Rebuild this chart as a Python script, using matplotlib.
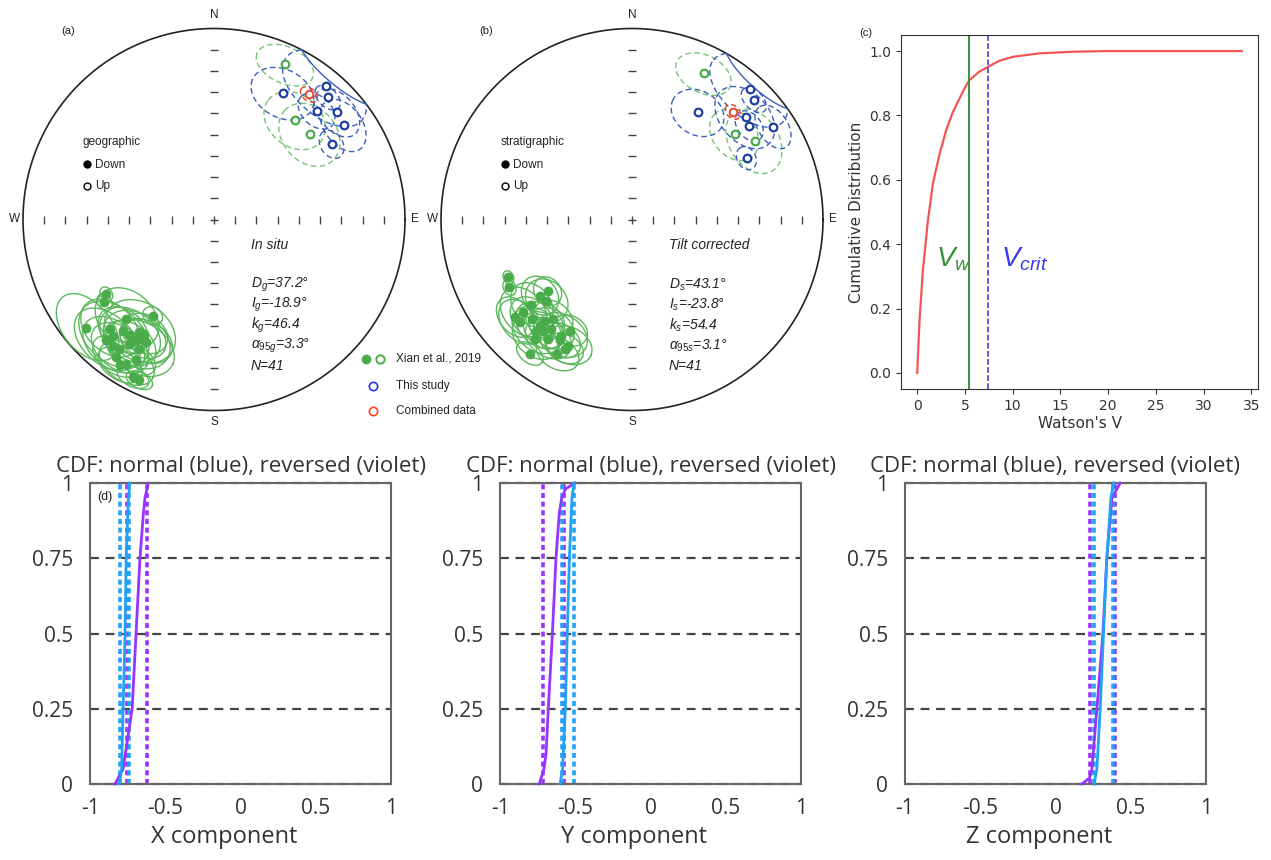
import numpy as np
import matplotlib
matplotlib.use('Agg')
import matplotlib.pyplot as plt

plt.rcParams['mathtext.fontset'] = 'custom'
plt.rcParams['mathtext.it'] = 'Liberation Sans:italic'
plt.rcParams['mathtext.rm'] = 'Liberation Sans'

# ---------------- DATA ----------------
# Panel (a) in situ: upper-hemisphere site means (open symbols, dashed a95)
a_xian_up_dec = [24.7, 39.2, 48.4]
a_xian_up_inc = [-11.6, -33.2, -33.2]
a_xian_up_a95 = [10.0, 12.5, 13.0]
a_this_dec = [28.6, 40.1, 43.0, 43.4, 49.0, 53.9, 57.4]
a_this_inc = [-25.5, -9.7, -13.7, -22.7, -15.5, -17.1, -27.7]
a_this_a95 = [12.0, 16.0, 5.0, 7.5, 9.5, 10.0, 5.5]
a_mean = (37.2, -18.9, 3.3)
# lower hemisphere (reversed) Xian et al. sites
a_xian_dn_dec = [235.3, 232.9, 229.6, 223.7, 221.4, 212.5, 221.1, 219.4, 213.5, 210.9, 212.8, 214.2, 216.2,
                 218.7, 210.0, 209.0, 215.4, 211.3, 208.9, 207.3, 204.9, 212.9, 221.7, 216.1, 211.3]
a_xian_dn_inc = [32.0, 28.9, 13.3, 21.9, 31.1, 40.0, 20.5, 25.7, 29.9, 28.0, 25.6, 22.3, 17.3,
                 16.5, 22.9, 27.5, 12.7, 12.6, 16.8, 8.0, 7.9, 9.9, 16.3, 25.8, 30.6]
a_xian_dn_a95 = [2.8, 3.3, 13.0, 12.0, 13.0, 4.0, 14.0, 10.0, 14.0, 9.0, 13.0, 10.0, 11.0,
                 12.0, 13.0, 10.0, 9.0, 10.0, 7.0, 5.5, 4.5, 8.0, 13.0, 12.0, 9.0]

# Panel (b) tilt corrected
b_xian_up_dec = [26.2, 50.3, 57.3]
b_xian_up_inc = [-15.9, -30.8, -24.6]
b_xian_up_a95 = [10.0, 10.5, 12.5]
b_this_dec = [31.6, 42.1, 45.6, 47.9, 51.4, 56.7, 61.8]
b_this_inc = [-34.5, -8.4, -11.6, -20.9, -22.4, -12.4, -32.5]
b_this_a95 = [10.5, 15.0, 5.0, 12.5, 6.0, 8.0, 4.5]
b_mean = (43.1, -23.8, 3.1)
b_xian_dn_dec = [244.9, 241.0, 229.6, 230.4, 226.5, 229.5, 230.1, 225.3, 220.8, 221.0, 220.7, 218.6, 216.4,
                 211.3, 209.3, 219.2, 215.1, 210.9, 206.9, 207.5, 217.3, 227.5, 218.4, 229.6, 209.1]
b_xian_dn_inc = [29.3, 27.5, 41.5, 37.4, 38.2, 26.1, 21.2, 26.9, 30.7, 27.3, 24.3, 26.4, 29.6,
                 29.6, 33.7, 20.5, 24.6, 27.1, 26.9, 24.7, 12.7, 21.5, 33.9, 31.5, 20.7]
b_xian_dn_a95 = [2.5, 3.0, 6.0, 8.0, 9.0, 10.0, 8.0, 9.0, 8.0, 10.0, 10.0, 8.0, 9.0,
                 10.0, 7.0, 9.0, 9.0, 8.0, 9.0, 7.0, 5.0, 9.0, 8.0, 9.0, 8.0]

# Panel (c) Watson's V CDF
watson_v = [0, 0.24, 0.59, 1.12, 1.64, 2.34, 3.03, 3.73, 4.43, 4.95, 5.47, 6.5, 7.42, 8.6, 10.0,
            12.8, 16.3, 19.8, 25.0, 30.0, 34.0]
watson_cdf = [0, 0.163, 0.318, 0.474, 0.588, 0.68, 0.754, 0.81, 0.853, 0.884, 0.91, 0.936, 0.951,
              0.97, 0.982, 0.993, 0.998, 1.0, 1.0, 1.0, 1.0]
v_w = 5.45
v_crit = 7.45

# Panel (d) bootstrap CDFs (component value at cumulative fraction)
x_norm_frac = [0, 0.05, 0.25, 0.5, 0.75, 0.95, 1]
x_norm_val = [-0.805, -0.79, -0.78, -0.767, -0.76, -0.745, -0.735]
x_norm_bounds = [-0.80, -0.74]
x_rev_frac = [0, 0.05, 0.25, 0.5, 0.75, 0.9, 0.95, 1]
x_rev_val = [-0.834, -0.78, -0.72, -0.694, -0.668, -0.645, -0.635, -0.612]
x_rev_bounds = [-0.755, -0.623]

y_norm_frac = [0, 0.05, 0.25, 0.5, 0.75, 0.95, 1]
y_norm_val = [-0.601, -0.584, -0.566, -0.553, -0.539, -0.522, -0.508]
y_norm_bounds = [-0.59, -0.506]
y_rev_frac = [0, 0.05, 0.1, 0.25, 0.5, 0.75, 0.9, 0.95, 0.98, 1]
y_rev_val = [-0.739, -0.708, -0.694, -0.679, -0.652, -0.628, -0.606, -0.59, -0.565, -0.502]
y_rev_bounds = [-0.712, -0.575]

z_norm_frac = [0, 0.05, 0.25, 0.5, 0.75, 0.95, 1]
z_norm_val = [0.257, 0.275, 0.297, 0.319, 0.341, 0.368, 0.386]
z_norm_bounds = [0.257, 0.381]
z_rev_frac = [0, 0.02, 0.05, 0.25, 0.5, 0.75, 0.95, 1]
z_rev_val = [0.175, 0.226, 0.242, 0.275, 0.315, 0.341, 0.375, 0.43]
z_rev_bounds = [0.231, 0.397]

# ---------------- FIGURE ----------------
W, H = 1271, 860
fig = plt.figure(figsize=(W / 100, H / 100), dpi=100)


def rect(l, t, r, b):
    return [l / W, 1 - b / H, (r - l) / W, (b - t) / H]


def dir2cart(dec, inc):
    d, i = np.radians(dec), np.radians(inc)
    return np.array([np.cos(i) * np.cos(d), np.cos(i) * np.sin(d), np.sin(i)])


def project(v):
    n, e, d = v
    h = np.sqrt(n ** 2 + e ** 2)
    h = np.where(h == 0, 1e-12, h)
    R = np.sqrt(1 - np.abs(d)) / h
    return e * R, n * R


def draw_a95(ax, dec, inc, a95, c_up, c_dn, lw=1.0):
    v = dir2cart(dec, inc)
    e1 = np.cross(v, [0, 0, 1.0])
    e1 /= np.linalg.norm(e1)
    e2 = np.cross(v, e1)
    t = np.linspace(0, 2 * np.pi, 241)
    a = np.radians(a95)
    pts = (np.cos(a) * v[:, None] + np.sin(a) * (np.outer(e1, np.cos(t)) + np.outer(e2, np.sin(t))))
    X, Y = project(pts)
    lower = pts[2] >= 0
    idx = np.flatnonzero(np.diff(lower.astype(int))) + 1
    for s in np.split(np.arange(len(t)), idx):
        s2 = np.append(s, s[-1] + 1) if s[-1] + 1 < len(t) else s
        if lower[s[0]]:
            ax.plot(X[s2], Y[s2], color=c_dn, lw=lw, ls='-', zorder=2)
        else:
            ax.plot(X[s2], Y[s2], color=c_up, lw=lw, ls=(0, (4, 2.5)), zorder=2)


G_UP = '#74c474'
G_DN = '#5cb85c'
G_MK = '#4aab4a'
B_EL = '#3c5fba'
B_MK = '#1f3fa0'
R_EL = '#e8452c'

TXT = dict(family='Liberation Sans', color='#222222')


def stereonet(cx, cy, R, up_g, dn_g, up_b, mean, tag, ref, title, stats, half=215):
    ax = fig.add_axes(rect(cx - half, cy - half, cx + half, cy + half))
    lim = half / R
    ax.set_xlim(-lim, lim)
    ax.set_ylim(-lim, lim)
    ax.axis('off')
    ax.patch.set_alpha(0)

    def P(px, py):
        return (px - cx) / R, (cy - py) / R

    t = np.linspace(0, 2 * np.pi, 400)
    ax.plot(np.cos(t), np.sin(t), color='#222222', lw=1.2, zorder=1)
    r = np.arange(1, 9) / 9
    kw = dict(color='#444444', ls='none', ms=6, mew=1.0, zorder=1)
    ax.plot(np.r_[r, -r], np.zeros(16), '|', **kw)
    ax.plot(np.zeros(16), np.r_[r, -r], '_', **kw)
    ax.plot([0], [0], '+', **kw)
    ax.text(0, (cy - 15) / R, 'N', ha='center', va='center', fontsize=8.5, **TXT)
    ax.text(0, (cy - 422) / R, 'S', ha='center', va='center', fontsize=8.5, **TXT)
    ax.text(-1.045, 0, 'W', ha='center', va='center', fontsize=8.5, **TXT)
    ax.text(1.05, 0, 'E', ha='center', va='center', fontsize=8.5, **TXT)

    # lower-hemisphere Xian sites
    dd, ii, aa = dn_g
    for d, i, a in zip(dd, ii, aa):
        draw_a95(ax, d, i, a, G_UP, G_DN, lw=1.0)
    X, Y = project(dir2cart(np.array(dd), np.array(ii)))
    ax.plot(X, Y, 'o', color=G_MK, ms=6, ls='none', zorder=4)
    # upper-hemisphere Xian sites
    dd, ii, aa = up_g
    for d, i, a in zip(dd, ii, aa):
        draw_a95(ax, d, i, a, G_UP, G_DN, lw=1.0)
    X, Y = project(dir2cart(np.array(dd), np.array(ii)))
    ax.plot(X, Y, 'o', mfc='white', mec=G_MK, mew=1.6, ms=5.5, ls='none', zorder=4)
    # this study
    dd, ii, aa = up_b
    for d, i, a in zip(dd, ii, aa):
        draw_a95(ax, d, i, a, B_EL, B_EL, lw=1.0)
    X, Y = project(dir2cart(np.array(dd), np.array(ii)))
    ax.plot(X, Y, 'o', mfc='white', mec=B_MK, mew=1.6, ms=5.5, ls='none', zorder=5)
    # combined mean
    d, i, a = mean
    draw_a95(ax, d, i, a, R_EL, R_EL, lw=1.0)
    X, Y = project(dir2cart(np.array([d]), np.array([i])))
    ax.plot(X, Y, 'o', mfc='white', mec=R_EL, mew=1.4, ms=5.5, ls='none', zorder=6)

    ax.text(*P(cx - 153, 31), tag, ha='left', va='center', fontsize=8, **TXT)
    ax.text(*P(cx - 131, 142), ref, ha='left', va='center', fontsize=8.5, **TXT)
    ax.plot(*P(cx - 127, 164.5), 'o', color='black', ms=5)
    ax.text(*P(cx - 119, 164.5), 'Down', ha='left', va='center', fontsize=8.5, **TXT)
    ax.plot(*P(cx - 127, 185.5), 'o', mfc='white', mec='black', mew=1.0, ms=5)
    ax.text(*P(cx - 119, 185.5), 'Up', ha='left', va='center', fontsize=8.5, **TXT)

    ax.text(*P(cx + 37, 245), title, ha='left', va='center', fontsize=10, style='italic', **TXT)
    for k, s in enumerate(stats):
        ax.text(*P(cx + 37, 285 + 20.2 * k), s, ha='left', va='center', fontsize=10,
                style='italic', **TXT)
    return ax, P


axa, Pa = stereonet(214, 219.5, 191,
                    (a_xian_up_dec, a_xian_up_inc, a_xian_up_a95),
                    (a_xian_dn_dec, a_xian_dn_inc, a_xian_dn_a95),
                    (a_this_dec, a_this_inc, a_this_a95), a_mean,
                    '(a)', 'geographic', 'In situ',
                    [r'$D_g$=37.2°', r'$I_g$=-18.9°', r'$k_g$=46.4', r'$\alpha_{95g}$=3.3°', 'N=41'])
axb, Pb = stereonet(632, 219.5, 191,
                    (b_xian_up_dec, b_xian_up_inc, b_xian_up_a95),
                    (b_xian_dn_dec, b_xian_dn_inc, b_xian_dn_a95),
                    (b_this_dec, b_this_inc, b_this_a95), b_mean,
                    '(b)', 'stratigraphic', 'Tilt corrected',
                    [r'$D_s$=43.1°', r'$I_s$=-23.8°', r'$k_s$=54.4', r'$\alpha_{95s}$=3.1°', 'N=41'])

# legend for (a)/(b)
axa.plot(*Pa(366, 358.5), 'o', color=G_MK, ms=6)
axa.plot(*Pa(380, 358.5), 'o', mfc='white', mec=G_MK, mew=1.4, ms=6)
axa.text(*Pa(396, 358.5), 'Xian et al., 2019', ha='left', va='center', fontsize=8.5, **TXT)
axa.plot(*Pa(373, 386), 'o', mfc='white', mec='#2233ee', mew=1.2, ms=6)
axa.text(*Pa(396, 386), 'This study', ha='left', va='center', fontsize=8.5, **TXT)
axa.plot(*Pa(373, 410.5), 'o', mfc='white', mec='#ff4422', mew=1.2, ms=6)
axa.text(*Pa(396, 410.5), 'Combined data', ha='left', va='center', fontsize=8.5, **TXT)

# ---------------- Panel (c) ----------------
axc = fig.add_axes(rect(901, 35, 1258, 389))
axc.plot(watson_v, watson_cdf, color='#f25555', lw=1.6)
axc.axvline(v_w, color='#3a933a', lw=1.4)
axc.axvline(v_crit, color='#3030e8', lw=1.1, ls='--')
axc.set_xticks(np.arange(0, 36, 5))
axc.set_yticks(np.arange(0, 1.01, 0.2))
axc.tick_params(labelsize=10, colors='#333333')
for sp in axc.spines.values():
    sp.set_color('#333333')
axc.set_xlabel("Watson's V", fontsize=11, color='#333333', labelpad=2)
axc.set_ylabel('Cumulative Distribution', fontsize=11, color='#333333', labelpad=4)
axc.text(2.0, 0.33, r'$V_w$', color='#3a8f3a', fontsize=20, va='baseline')
axc.text(8.8, 0.33, r'$V_{crit}$', color='#3a3af0', fontsize=20, va='baseline')
fig.text(866 / W, 1 - 33 / H, '(c)', fontsize=8, ha='center', va='center', **TXT)

# ---------------- Panel (d) ----------------
BLUE = '#22a2f5'
VIOL = '#9933ff'


def cdf_panel(l, r, nf, nv, nb, rf, rv, rb, xlabel, tag=None):
    ax = fig.add_axes(rect(l, 483, r, 784))
    ax.set_xlim(-1, 1)
    ax.set_ylim(0, 1)
    for yv in [0, 0.25, 0.5, 0.75, 1]:
        ax.axhline(yv, color='#444444', lw=1.6, ls=(0, (4, 3)), zorder=1, clip_on=False)
    for xb in rb:
        ax.axvline(xb, color=VIOL, lw=2.6, ls=(0, (1.4, 1.0)), zorder=2)
    for xb in nb:
        ax.axvline(xb, color=BLUE, lw=2.6, ls=(0, (1.4, 1.0)), zorder=2)
    ax.plot(rv, rf, color=VIOL, lw=2.0, zorder=3, clip_on=False)
    ax.plot(nv, nf, color=BLUE, lw=2.0, zorder=3, clip_on=False)
    ax.set_xticks([-1, -0.5, 0, 0.5, 1])
    ax.set_xticklabels(['-1', '-0.5', '0', '0.5', '1'])
    ax.set_yticks([0, 0.25, 0.5, 0.75, 1])
    ax.set_yticklabels(['0', '0.25', '0.5', '0.75', '1'])
    ax.tick_params(length=0, labelsize=15, colors='#333333', pad=10)
    ax.tick_params(axis='y', pad=12)
    for sp in ax.spines.values():
        sp.set_color('#666666')
        sp.set_linewidth(1.5)
    ax.set_title('CDF: normal (blue), reversed (violet)', fontsize=16, family='Open Sans',
                 color='#333333', pad=8)
    ax.set_xlabel(xlabel, fontsize=17, family='Open Sans', color='#333333')
    ax.xaxis.set_label_coords(0.445, -0.175)
    ax.xaxis.label.set_va('center')
    for lab in ax.get_xticklabels() + ax.get_yticklabels():
        lab.set_family('Open Sans')
    if tag:
        ax.text(0.025, 0.955, tag, transform=ax.transAxes, fontsize=9, ha='left', va='center', **TXT)
    return ax


cdf_panel(90, 391, x_norm_frac, x_norm_val, x_norm_bounds, x_rev_frac, x_rev_val, x_rev_bounds,
          'X component', '(d)')
cdf_panel(500, 801, y_norm_frac, y_norm_val, y_norm_bounds, y_rev_frac, y_rev_val, y_rev_bounds,
          'Y component')
cdf_panel(905, 1206, z_norm_frac, z_norm_val, z_norm_bounds, z_rev_frac, z_rev_val, z_rev_bounds,
          'Z component')

fig.savefig('out.png', dpi=100)
